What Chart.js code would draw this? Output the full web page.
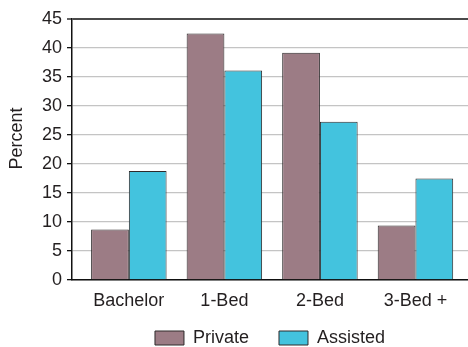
<!DOCTYPE html>
<html>
<head>
<meta charset="utf-8">
<script src="https://cdn.jsdelivr.net/npm/chart.js@4/dist/chart.umd.min.js"></script>
<style>
  html, body { margin: 0; padding: 0; background: #ffffff; }
  #wrap { width: 468px; height: 347px; }
</style>
</head>
<body>
<div id="wrap"><canvas id="c" width="468" height="347"></canvas></div>
<script>
// Unit types and the share of each (percent) by housing sector
const categories = ['Bachelor', '1-Bed', '2-Bed', '3-Bed +'];
const privateValues = [8.7, 42.5, 39.2, 9.4];
const assistedValues = [18.8, 36.1, 27.3, 17.5];
const yTicks = [0, 5, 10, 15, 20, 25, 30, 35, 40, 45];
const yTitle = 'Percent';
const seriesNames = ['Private', 'Assisted'];

const FONT = '"Liberation Sans", Arial, Helvetica, sans-serif';
const INK = '#231f20';
const LEGEND_GAP = 30;

const toPoints = (vals) => vals.map((v, i) => ({ x: i, y: v }));

// Rotated axis title, sitting a little above the middle of the value axis
const axisTitle = {
  id: 'axisTitle',
  afterDraw(chart) {
    const { ctx, chartArea } = chart;
    ctx.save();
    ctx.font = '18px ' + FONT;
    ctx.fillStyle = INK;
    ctx.textAlign = 'center';
    ctx.textBaseline = 'middle';
    ctx.translate(17, (chartArea.top + chartArea.bottom) / 2 - 11);
    ctx.rotate(-Math.PI / 2);
    ctx.fillText(yTitle, 0, 0);
    ctx.restore();
  }
};

// The legend keeps a wide gap between its items; extend its box upwards so
// the wide padding does not push the row towards the bottom edge
const legendLift = {
  id: 'legendLift',
  afterLayout(chart) {
    const lg = chart.legend;
    if (!lg) return;
    const lift = LEGEND_GAP - 21;
    lg.top -= lift;
    lg.height += lift;
  }
};

new Chart(document.getElementById('c'), {
  type: 'bar',
  data: {
    datasets: [
      {
        label: seriesNames[0],
        data: toPoints(privateValues),
        backgroundColor: '#9c7c85',
        borderColor: '#2e2a2b',
        borderWidth: 1
      },
      {
        label: seriesNames[1],
        data: toPoints(assistedValues),
        backgroundColor: '#43c3de',
        borderColor: '#2e2a2b',
        borderWidth: 1
      }
    ]
  },
  plugins: [axisTitle, legendLift],
  options: {
    responsive: false,
    animation: false,
    devicePixelRatio: 1,
    layout: { padding: { top: 19, right: 0, bottom: 0, left: 0 } },
    datasets: {
      bar: { categoryPercentage: 0.79, barPercentage: 1.0 }
    },
    scales: {
      x: {
        type: 'linear',
        offset: false,
        min: -0.595,
        max: 3.55,
        afterBuildTicks(scale) {
          scale.ticks = categories.map((_, i) => ({ value: i }));
        },
        afterFit(scale) { scale.height = 28; },
        ticks: {
          autoSkip: false,
          maxRotation: 0,
          padding: 10,
          color: INK,
          font: { family: FONT, size: 18 },
          callback: (v) => categories[v]
        },
        grid: { display: false, drawTicks: false, offset: false },
        border: { display: true, color: '#111111', width: 1.5 }
      },
      y: {
        min: 0,
        max: 45,
        afterBuildTicks(scale) {
          scale.ticks = yTicks.map((v) => ({ value: v }));
        },
        afterFit(scale) { scale.width = 72; },
        ticks: {
          padding: 5,
          color: INK,
          font: { family: FONT, size: 18 }
        },
        grid: {
          color: (c) => (c.tick && c.tick.value === 45 ? '#4a4a4a' : '#c4c4c4'),
          lineWidth: (c) => (c.tick && c.tick.value === 45 ? 2 : 1.3),
          tickColor: '#111111',
          tickLength: 5,
          tickWidth: 1.3
        },
        border: { display: true, color: '#111111', width: 1.5 }
      }
    },
    plugins: {
      tooltip: { enabled: false },
      legend: {
        position: 'bottom',
        fullSize: false,
        maxHeight: 39,
        labels: {
          boxWidth: 29,
          boxHeight: 14,
          padding: LEGEND_GAP,
          color: INK,
          font: { family: FONT, size: 18 }
        }
      }
    }
  }
});
</script>
</body>
</html>
